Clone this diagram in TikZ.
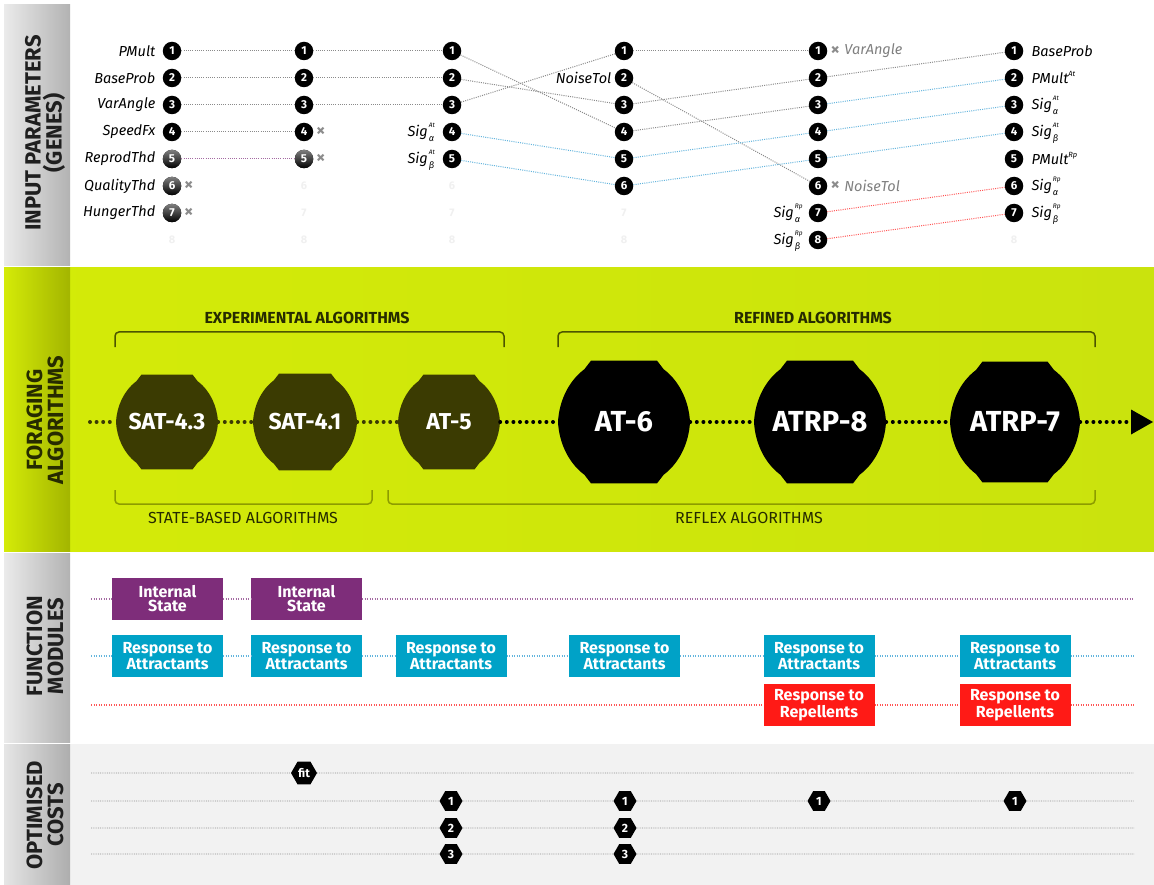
\documentclass[tikz,border=0pt]{standalone}
\usepackage{fontspec}
\setmainfont{Fira Sans}
\usetikzlibrary{positioning,shapes.geometric,calc}
\definecolor{lime}{HTML}{D4EB08}
\definecolor{limeR}{HTML}{CAE30D}
\definecolor{limeD}{HTML}{A3B500}
\definecolor{olive}{HTML}{3B3B02}
\definecolor{brkdark}{HTML}{4C5500}
\definecolor{brklight}{HTML}{8D9C00}
\definecolor{limetext}{HTML}{262B00}
\definecolor{pur}{HTML}{7E2D7A}
\definecolor{cyanb}{HTML}{00A2C7}
\definecolor{redb}{HTML}{FF1A16}
\definecolor{lpur}{HTML}{A46AA2}
\definecolor{lblue}{HTML}{63B5DD}
\definecolor{lred}{HTML}{FF5555}
\definecolor{dotgray}{HTML}{8A8A8A}
\definecolor{costbg}{HTML}{F2F2F2}
\newcommand\sigm[2]{\textit{Sig}\hspace{1pt}\makebox[8.5pt][l]{\rlap{\raisebox{0.58em}[0pt][0pt]{\fontsize{6.5}{6.5}\selectfont\itshape #1}}\raisebox{-0.36em}[0pt][0pt]{\fontsize{9}{9}\selectfont #2}}}
\newcommand\supm[2]{\textit{#1}\raisebox{0.5em}[0pt][0pt]{\fontsize{7.5}{7.5}\selectfont\itshape #2}}
\newcommand\blob[4]{\begin{scope}[shift={(#1,#2)},x=#3pt,y=#3pt]
\fill[#4] (-1,0) .. controls (-0.985,0.30) and (-0.852,0.611) .. (-0.6,0.8) .. controls (-0.55,0.86) .. (-0.5,0.93) -- (0.5,0.93) .. controls (0.55,0.86) .. (0.6,0.8)
 .. controls (0.852,0.611) and (0.985,0.30) .. (1,0) .. controls (0.985,-0.30) and (0.852,-0.611) .. (0.6,-0.8)
 .. controls (0.55,-0.86) .. (0.5,-0.93) -- (-0.5,-0.93) .. controls (-0.55,-0.86) .. (-0.6,-0.8) .. controls (-0.852,-0.611) and (-0.985,-0.30) .. (-1,0) -- cycle;
\end{scope}}
\begin{document}
\begin{tikzpicture}[x=1pt,y=-1pt,
  pc/.style={circle,fill=black,text=white,inner sep=0pt,minimum size=18.5pt,font=\bfseries\fontsize{11.5}{11.5}\selectfont},
  pcg/.style={pc,top color=black!50,bottom color=black},
  pf/.style={circle,inner sep=0pt,minimum size=18pt,text=black!6,font=\bfseries\fontsize{11}{11}\selectfont},
  lab/.style={inner sep=0pt,font=\itshape\fontsize{14.5}{14.5}\selectfont},
  glab/.style={lab,text=black!50},
  xm/.style={inner sep=0pt,text=black!45,font=\bfseries\fontsize{18}{18}\selectfont},
  gl/.style={dotgray,line width=1pt,dash pattern=on 1pt off 1.2pt},
  bl/.style={gl,lblue},
  pl/.style={gl,lpur},
  rl/.style={gl,lred},
  side/.style={rotate=90,align=center,inner sep=0pt,font=\bfseries\fontsize{22}{21}\selectfont,text=black!88},
  alg/.style={circle,inner sep=0pt,text=white,font=\bfseries\fontsize{23}{23}\selectfont},
  bigalg/.style={alg,font=\bfseries\fontsize{29}{29}\selectfont},
  odots/.style={olive,line width=4pt,dash pattern=on 0pt off 6.6pt,line cap=round},
  kdots/.style={odots,black},
  brkA/.style={brkdark,line width=1.5pt,rounded corners=4pt},
  brkB/.style={brklight,line width=1.5pt,rounded corners=4pt},
  grpA/.style={inner sep=0pt,text=limetext,font=\bfseries\fontsize{16}{16}\selectfont},
  grpB/.style={inner sep=0pt,text=limetext,font=\fontsize{16}{16}\selectfont},
  fmod/.style={rectangle,minimum width=111pt,minimum height=42pt,inner sep=0pt,align=center,text=white,font=\bfseries\fontsize{16}{14}\selectfont},
  fl/.style={line width=1.3pt,dash pattern=on 1.2pt off 1.3pt},
  hexc/.style={regular polygon,regular polygon sides=6,fill=black,text=white,inner sep=0pt,minimum size=23pt,font=\bfseries\fontsize{12}{12}\selectfont},
  cl/.style={black!45,line width=0.8pt,dash pattern=on 0.8pt off 1pt}
]
\useasboundingbox (0,0) rectangle (1154,885);
\fill[white] (0,0) rectangle (1154,885);
% ---------- bands ----------
\shade[left color=black!8,right color=black!30] (4,5) rectangle (70,266);
\shade[left color=lime,right color=limeR] (4,268) rectangle (1154,551);
\shade[left color=lime,right color=limeD] (4,268) rectangle (70,551);
\shade[left color=black!8,right color=black!30] (4,553) rectangle (70,742);
\fill[costbg] (4,744) rectangle (1154,885);
\shade[left color=black!10,right color=black!32] (4,744) rectangle (70,885);
% ---------- side labels ----------
\node[side] (hIn) at (45,133) {INPUT PARAMETERS\\(GENES)};
\node[side,text=limetext] (hFo) at (45,420) {FORAGING\\ALGORITHMS};
\node[side] (hFu) at (45,646) {FUNCTION\\MODULES};
\node[side] (hOp) at (45,815) {OPTIMISED\\COSTS};
% ---------- input parameters ----------
% column 1
\node[pc] (a11) at (172,51) {1};
\node[pc] (a12) at (172,78) {2};
\node[pc] (a13) at (172,105) {3};
\node[pc] (a14) at (172,132) {4};
\node[pcg] (a15) at (172,159) {5};
\node[pcg] (a16) at (172,186) {6};
\node[pcg] (a17) at (172,213) {7};
\node[pf] (a18) at (172,240) {8};
\node[lab,left=7pt of a11] (l11) {PMult};
\node[lab,left=7pt of a12] (l12) {BaseProb};
\node[lab,left=7pt of a13] (l13) {VarAngle};
\node[lab,left=7pt of a14] (l14) {SpeedFx};
\node[lab,left=7pt of a15] (l15) {ReprodThd};
\node[lab,left=7pt of a16] (l16) {QualityThd};
\node[lab,left=7pt of a17] (l17) {HungerThd};
\node[xm,right=2.5pt of a16] (x16) {×};
\node[xm,right=2.5pt of a17] (x17) {×};
% column 2
\node[pc] (a21) at (304,51) {1};
\node[pc] (a22) at (304,78) {2};
\node[pc] (a23) at (304,105) {3};
\node[pc] (a24) at (304,132) {4};
\node[pcg] (a25) at (304,159) {5};
\node[pf] (a26) at (304,186) {6};
\node[pf] (a27) at (304,213) {7};
\node[pf] (a28) at (304,240) {8};
\node[xm,right=2.5pt of a24] (x24) {×};
\node[xm,right=2.5pt of a25] (x25) {×};
% column 3
\node[pc] (a31) at (452,51) {1};
\node[pc] (a32) at (452,78) {2};
\node[pc] (a33) at (452,105) {3};
\node[pc] (a34) at (452,132) {4};
\node[pc] (a35) at (452,159) {5};
\node[pf] (a36) at (452,186) {6};
\node[pf] (a37) at (452,213) {7};
\node[pf] (a38) at (452,240) {8};
\node[lab,left=5pt of a34] (l34) {\sigm{At}{α}};
\node[lab,left=5pt of a35] (l35) {\sigm{At}{β}};
% column 4
\node[pc] (a41) at (624,51) {1};
\node[pc] (a42) at (624,78) {2};
\node[pc] (a43) at (624,105) {3};
\node[pc] (a44) at (624,132) {4};
\node[pc] (a45) at (624,159) {5};
\node[pc] (a46) at (624,186) {6};
\node[pf] (a47) at (624,213) {7};
\node[pf] (a48) at (624,240) {8};
\node[lab,left=3pt of a42] (l42) {NoiseTol};
% column 5
\node[pc] (a51) at (818,51) {1};
\node[pc] (a52) at (818,78) {2};
\node[pc] (a53) at (818,105) {3};
\node[pc] (a54) at (818,132) {4};
\node[pc] (a55) at (818,159) {5};
\node[pc] (a56) at (818,186) {6};
\node[pc] (a57) at (818,213) {7};
\node[pc] (a58) at (818,240) {8};
\node[xm,right=3pt of a51] (x51) {×};
\node[glab,right=4pt of x51] (l51) {VarAngle};
\node[xm,right=3pt of a56] (x56) {×};
\node[glab,right=4pt of x56] (l56) {NoiseTol};
\node[lab,left=5pt of a57] (l57) {\sigm{Rp}{α}};
\node[lab,left=5pt of a58] (l58) {\sigm{Rp}{β}};
% column 6
\node[pc] (a61) at (1014,51) {1};
\node[pc] (a62) at (1014,78) {2};
\node[pc] (a63) at (1014,105) {3};
\node[pc] (a64) at (1014,132) {4};
\node[pc] (a65) at (1014,159) {5};
\node[pc] (a66) at (1014,186) {6};
\node[pc] (a67) at (1014,213) {7};
\node[pf] (a68) at (1014,240) {8};
\node[lab,right=8pt of a61] (l61) {BaseProb};
\node[lab,right=8pt of a62] (l62) {\supm{PMult}{At}};
\node[lab,right=8pt of a63] (l63) {\sigm{At}{α}};
\node[lab,right=8pt of a64] (l64) {\sigm{At}{β}};
\node[lab,right=8pt of a65] (l65) {\supm{PMult}{Rp}};
\node[lab,right=8pt of a66] (l66) {\sigm{Rp}{α}};
\node[lab,right=8pt of a67] (l67) {\sigm{Rp}{β}};
% connectors
\draw[gl] (a11) -- (a21);
\draw[gl] (a12) -- (a22);
\draw[gl] (a13) -- (a23);
\draw[gl] (a14) -- (a24);
\draw[pl] (a15) -- (a25);
\draw[gl] (a21) -- (a31);
\draw[gl] (a22) -- (a32);
\draw[gl] (a23) -- (a33);
\draw[gl] (a31) -- (a44);
\draw[gl] (a32) -- (a43);
\draw[gl] (a33) -- (a41);
\draw[bl] (a34) -- (a45);
\draw[bl] (a35) -- (a46);
\draw[gl] (a41) -- (a51);
\draw[gl] (a42) -- (a56);
\draw[gl] (a43) -- (a52);
\draw[gl] (a44) -- (a53);
\draw[bl] (a45) -- (a54);
\draw[bl] (a46) -- (a55);
\draw[gl] (a52) -- (a61);
\draw[bl] (a53) -- (a62);
\draw[bl] (a54) -- (a63);
\draw[bl] (a55) -- (a64);
\draw[rl] (a57) -- (a66);
\draw[rl] (a58) -- (a67);
% ---------- foraging algorithms ----------
\draw[brkA] (115,347) -- (115,332) -- (504,332) -- (504,347);
\draw[brkA] (558,347) -- (558,332) -- (1095,332) -- (1095,347);
\draw[brkB] (115,490) -- (115,504) -- (372,504) -- (372,490);
\draw[brkB] (388,490) -- (388,504) -- (1095,504) -- (1095,490);
\node[grpA] (gExp) at (307,318) {EXPERIMENTAL ALGORITHMS};
\node[grpA] (gRef) at (813,318) {REFINED ALGORITHMS};
\node[grpB] (gSta) at (243,518) {STATE-BASED ALGORITHMS};
\node[grpB] (gRfx) at (749,518) {REFLEX ALGORITHMS};
\blob{167}{422}{51}{olive}
\blob{305}{422}{52}{olive}
\blob{449}{422}{51}{olive}
\blob{624}{422}{66}{black}
\blob{820}{422}{66}{black}
\blob{1015}{422}{65}{black}
\node[alg,minimum size=102pt] (sat43) at (167,422) {SAT-4.3};
\node[alg,minimum size=104pt] (sat41) at (305,422) {SAT-4.1};
\node[alg,minimum size=102pt] (at5) at (449,422) {AT-5};
\node[bigalg,minimum size=132pt] (at6) at (624,422) {AT-6};
\node[bigalg,minimum size=132pt] (atrp8) at (820,422) {ATRP-8};
\node[bigalg,minimum size=130pt] (atrp7) at (1015,422) {ATRP-7};
\coordinate (fstart) at (90,422);
\coordinate (fend) at (1131,422);
\draw[odots] (fstart) -- (sat43);
\draw[odots] (sat43) -- (sat41);
\draw[odots] (sat41) -- (at5);
\draw[kdots] (at5) -- (at6);
\draw[kdots] (at6) -- (atrp8);
\draw[kdots] (atrp8) -- (atrp7);
\draw[kdots] (atrp7) -- (fend);
\fill[black] (fend) ++(0,-12.5) -- ++(22,12.5) -- ++(-22,12.5) -- cycle;
% ---------- function modules ----------
\coordinate (ps) at (91,599);  \coordinate (pe) at (1134,599);
\coordinate (bs) at (91,656);  \coordinate (be) at (1134,656);
\coordinate (rs) at (91,705);  \coordinate (re) at (1134,705);
\node[fmod,fill=pur] (is1) at (167.5,599) {Internal\\State};
\node[fmod,fill=pur] (is2) at (306.5,599) {Internal\\State};
\node[fmod,fill=cyanb] (ra1) at (167.5,656) {Response to\\Attractants};
\node[fmod,fill=cyanb] (ra2) at (306.5,656) {Response to\\Attractants};
\node[fmod,fill=cyanb] (ra3) at (451,656) {Response to\\Attractants};
\node[fmod,fill=cyanb] (ra4) at (624.5,656) {Response to\\Attractants};
\node[fmod,fill=cyanb] (ra5) at (819,656) {Response to\\Attractants};
\node[fmod,fill=cyanb] (ra6) at (1015,656) {Response to\\Attractants};
\node[fmod,fill=redb] (rr5) at (819,705) {Response to\\Repellents};
\node[fmod,fill=redb] (rr6) at (1015,705) {Response to\\Repellents};
\draw[fl,lpur] (ps) -- (is1);
\draw[fl,lpur] (is1) -- (is2);
\draw[fl,lpur] (is2) -- (pe);
\draw[fl,lblue] (bs) -- (ra1);
\draw[fl,lblue] (ra1) -- (ra2);
\draw[fl,lblue] (ra2) -- (ra3);
\draw[fl,lblue] (ra3) -- (ra4);
\draw[fl,lblue] (ra4) -- (ra5);
\draw[fl,lblue] (ra5) -- (ra6);
\draw[fl,lblue] (ra6) -- (be);
\draw[fl,lred] (rs) -- (rr5);
\draw[fl,lred] (rr5) -- (rr6);
\draw[fl,lred] (rr6) -- (re);
% ---------- optimised costs ----------
\coordinate (c0s) at (91,773);  \coordinate (c0e) at (1134,773);
\coordinate (c1s) at (91,801);  \coordinate (c1e) at (1134,801);
\coordinate (c2s) at (91,828);  \coordinate (c2e) at (1134,828);
\coordinate (c3s) at (91,854);  \coordinate (c3e) at (1134,854);
\node[hexc,minimum size=26pt] (hfit) at (304,773) {fit};
\node[hexc] (h1a) at (451,801) {1};
\node[hexc] (h1b) at (625,801) {1};
\node[hexc] (h1c) at (819,801) {1};
\node[hexc] (h1d) at (1015,801) {1};
\node[hexc] (h2a) at (451,828) {2};
\node[hexc] (h2b) at (625,828) {2};
\node[hexc] (h3a) at (451,854) {3};
\node[hexc] (h3b) at (625,854) {3};
\draw[cl] (c0s) -- (hfit);
\draw[cl] (hfit) -- (c0e);
\draw[cl] (c1s) -- (h1a);
\draw[cl] (h1a) -- (h1b);
\draw[cl] (h1b) -- (h1c);
\draw[cl] (h1c) -- (h1d);
\draw[cl] (h1d) -- (c1e);
\draw[cl] (c2s) -- (h2a);
\draw[cl] (h2a) -- (h2b);
\draw[cl] (h2b) -- (c2e);
\draw[cl] (c3s) -- (h3a);
\draw[cl] (h3a) -- (h3b);
\draw[cl] (h3b) -- (c3e);
\end{tikzpicture}
\end{document}
